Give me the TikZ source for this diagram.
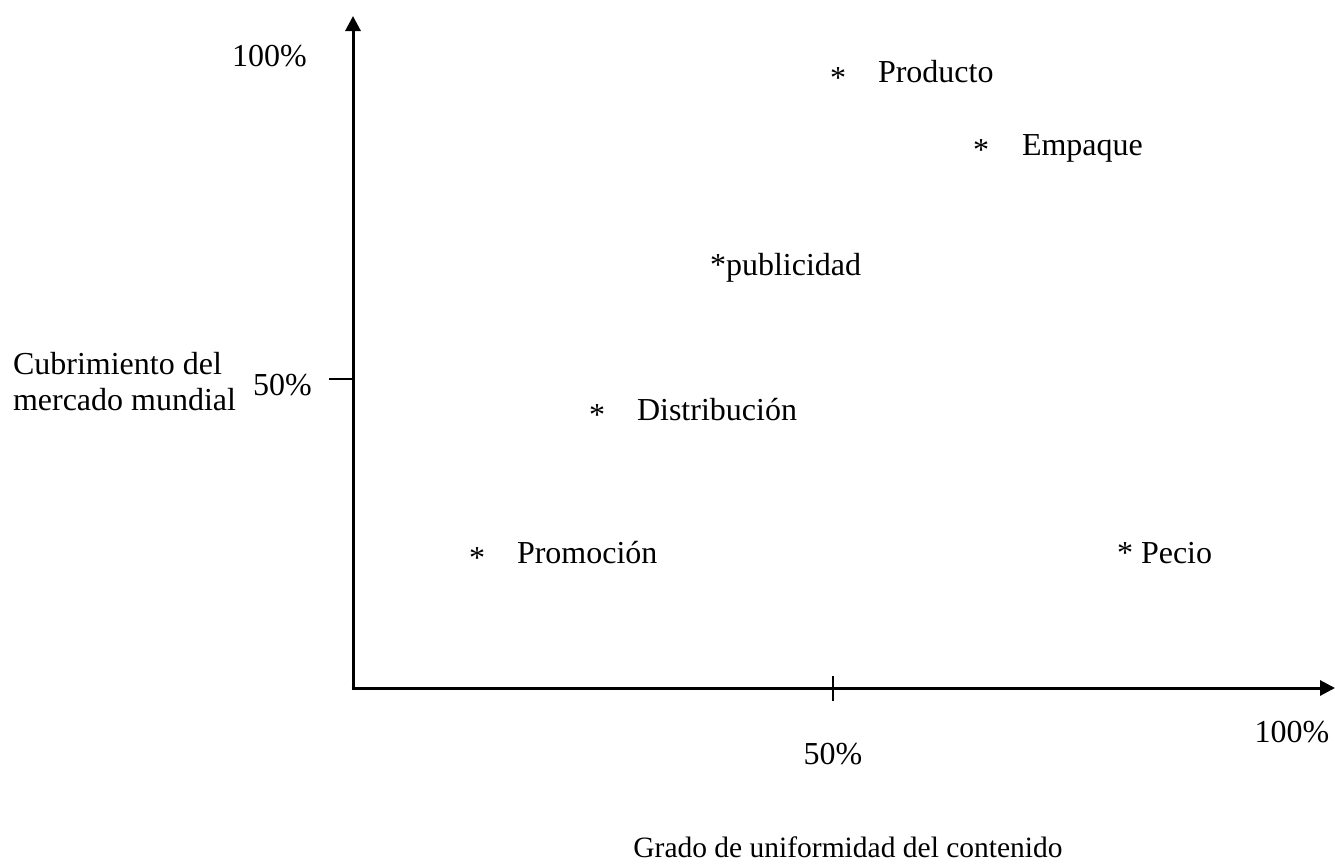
\documentclass[tikz,border=0pt]{standalone}
\usepackage{fontspec}
\setmainfont{Liberation Serif}
\usetikzlibrary{arrows.meta}
\begin{document}
\begin{tikzpicture}[x=1pt,y=-1pt,
  lbl/.style={inner sep=0pt,outer sep=0pt,anchor=base west,font=\fontsize{32}{36}\selectfont},
  clbl/.style={lbl,anchor=base},
  star/.style={inner sep=0pt,outer sep=0pt,anchor=base,font=\fontsize{32}{36}\selectfont},
  axisline/.style={line width=3pt,-{Triangle[length=15pt,width=15pt]}},
  tickline/.style={line width=2pt}]
\useasboundingbox (0,0) rectangle (1335,865);
\coordinate (o) at (353,688);
\coordinate (ytop) at (353,16);
\coordinate (xend) at (1335,688);
\coordinate (yt1) at (329,379);
\coordinate (yt2) at (353,379);
\coordinate (xt1) at (833,676);
\coordinate (xt2) at (833,701);
\draw[axisline] (o) -- (ytop);
\draw[axisline] ([xshift=-1.5pt]o) -- (xend);
\draw[tickline] (yt1) -- (yt2);
\draw[tickline] (xt1) -- (xt2);
% axis labels
\node[lbl] (y100) at (232,66) {100\%};
\node[lbl] (y50) at (253,395) {50\%};
\node[lbl] (ylab1) at (13,374) {Cubrimiento del};
\node[lbl] (ylab2) at (13,410) {mercado mundial};
\node[clbl] (x50) at (833,764) {50\%};
\node[clbl] (x100) at (1292,742) {100\%};
\node[clbl,font=\fontsize{29.5}{36}\selectfont] (xlab) at (848,857) {Grado de uniformidad del contenido};
% points
\node[star] (s1) at (838,88) {*};
\node[lbl] (prod) at (878,82) {Producto};
\node[star] (s2) at (981,160) {*};
\node[lbl] (emp) at (1022,155) {Empaque};
\node[lbl] (pub) at (710,275) {*publicidad};
\node[star] (s3) at (597,425) {*};
\node[lbl] (dist) at (637,420) {Distribución};
\node[star] (s4) at (477,568) {*};
\node[lbl] (prom) at (517,563) {Promoción};
\node[lbl] (pecio) at (1117,563) {* Pecio};
\end{tikzpicture}
\end{document}
